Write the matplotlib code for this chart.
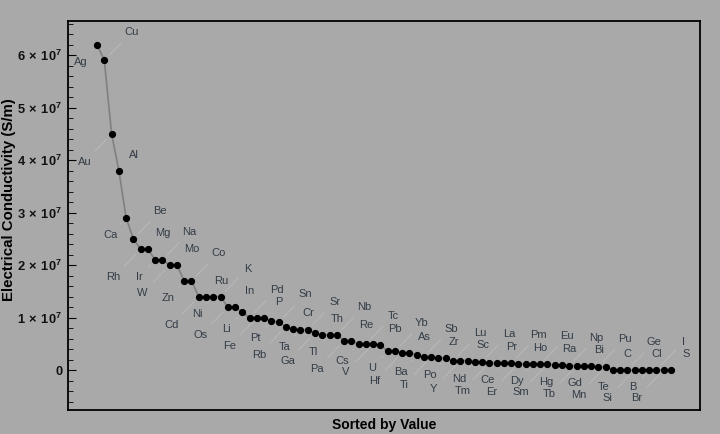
import numpy as np
import matplotlib
matplotlib.use("Agg")
import matplotlib.pyplot as plt
from matplotlib.ticker import FuncFormatter, MultipleLocator

plt.rcParams['font.family'] = ['Liberation Sans', 'DejaVu Sans']
plt.rcParams['mathtext.fontset'] = 'custom'
plt.rcParams['mathtext.rm'] = 'Liberation Sans:bold'
plt.rcParams['mathtext.default'] = 'rm'

# elements sorted by electrical conductivity (S/m)
elements = ["Ag", "Cu", "Au", "Al", "Ca", "Be", "Rh", "Mg", "Ir", "Na",
            "W", "Mo", "Zn", "Co", "Cd", "Ru", "Ni", "K", "Os", "In",
            "Li", "Pd", "Fe", "P", "Pt", "Sn", "Rb", "Cr", "Ta", "Sr",
            "Ga", "Th", "Tl", "Nb", "Pa", "Re", "Cs", "Tc", "V", "Pb",
            "U", "Yb", "Hf", "As", "Ba", "Sb", "Ti", "Zr", "Po", "Lu",
            "Y", "Sc", "Nd", "La", "Tm", "Pr", "Ce", "Pm", "Er", "Ho",
            "Dy", "Eu", "Sm", "Ra", "Hg", "Np", "Tb", "Bi", "Gd", "Pu",
            "Mn", "C", "Te", "Ge", "Si", "Cl", "B", "I", "Br", "S"]
conductivity = [6.2e7, 5.9e7, 4.5e7, 3.8e7, 2.9e7, 2.5e7, 2.3e7, 2.3e7, 2.1e7, 2.1e7,
                2.0e7, 2.0e7, 1.7e7, 1.7e7, 1.4e7, 1.4e7, 1.4e7, 1.4e7, 1.2e7, 1.2e7,
                1.1e7, 1.0e7, 1.0e7, 1.0e7, 9.4e6, 9.1e6, 8.3e6, 7.9e6, 7.7e6, 7.7e6,
                7.1e6, 6.7e6, 6.7e6, 6.7e6, 5.6e6, 5.6e6, 5.0e6, 5.0e6, 5.0e6, 4.8e6,
                3.6e6, 3.6e6, 3.3e6, 3.3e6, 2.9e6, 2.5e6, 2.5e6, 2.4e6, 2.3e6, 1.8e6,
                1.8e6, 1.8e6, 1.6e6, 1.6e6, 1.4e6, 1.4e6, 1.4e6, 1.3e6, 1.2e6, 1.1e6,
                1.1e6, 1.1e6, 1.1e6, 1.0e6, 1.0e6, 8.3e5, 8.3e5, 7.7e5, 7.7e5, 6.7e5,
                6.2e5, 1.0e5, 1.0e4, 2.0e3, 1.0e3, 1.0e-2, 1.0e-4, 1.0e-7, 1.0e-10, 1.0e-15]

bg = "#a9a9a9"
fig = plt.figure(figsize=(7.2, 4.34), dpi=100, facecolor=bg)
ax = fig.add_axes([68/720, 1 - 410/434, 632/720, 389/434], facecolor=bg)

x = np.arange(len(elements))
ax.plot(x, conductivity, color="#808080", lw=1.2, zorder=2)
ax.plot(x, conductivity, "o", color="black", ms=4.2, zorder=3)

# callout labels alternate below-left / above-right, near / far
offsets = {0: (-16, -17), 2: (-27, -28), 1: (27, 28), 3: (15, 16)}
for i, (name, v) in enumerate(zip(elements, conductivity)):
    dx, dy = offsets[i % 4]
    ax.annotate(name, (i, v), xytext=(dx, dy), textcoords="offset pixels",
                ha="center", va="center", fontsize=8, color="#333c46",
                arrowprops=dict(arrowstyle="-", color="#bcbcbc", lw=0.6,
                                shrinkA=3, shrinkB=5), zorder=1)

ax.set_xlim(-4, 83)
ax.set_ylim(-0.76e7, 6.65e7)
ax.set_xticks([])
ax.yaxis.set_major_locator(MultipleLocator(1e7))
ax.yaxis.set_minor_locator(MultipleLocator(2e6))


def fmt(v, pos):
    k = int(round(v / 1e7))
    if k == 0:
        return "0"
    return r"%d$\,\times\,$10$^{7}$" % k


ax.yaxis.set_major_formatter(FuncFormatter(fmt))
ax.tick_params(axis="y", which="major", direction="in", length=6, width=0.8,
               labelsize=9.3, pad=4, labelcolor="#111111")
ax.tick_params(axis="y", which="minor", direction="in", length=3.5, width=0.6)
for t in ax.get_yticklabels():
    t.set_fontweight("bold")
for s in ax.spines.values():
    s.set_linewidth(1.3)

ax.set_ylabel("Electrical Conductivity (S/m)", fontsize=10.8, fontweight="bold")
ax.yaxis.set_label_coords(-0.082, 0.54)
ax.set_xlabel("Sorted by Value", fontsize=10, fontweight="bold", labelpad=6)

fig.savefig("out.png", dpi=100, facecolor=bg)
